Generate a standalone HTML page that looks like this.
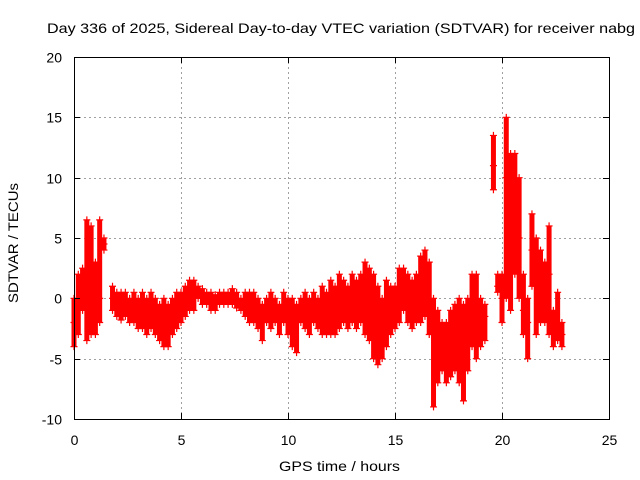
<!DOCTYPE html>
<html><head><meta charset="utf-8"><style>
body{margin:0;background:#fff;}
svg{display:block;font-family:"Liberation Sans",sans-serif;}
</style></head><body>
<svg id="chart" width="640" height="480" viewBox="0 0 640 480" xmlns="http://www.w3.org/2000/svg">
<text x="47" y="33" font-size="14" textLength="588" lengthAdjust="spacingAndGlyphs">Day 336 of 2025, Sidereal Day-to-day VTEC variation (SDTVAR) for receiver nabg</text>
<g id="grid"></g>
<g id="marks"></g>
<rect x="74.5" y="57.5" width="535" height="362" fill="none" stroke="#000" stroke-width="1"/>
<g id="ticks"></g>
<text x="279" y="471" font-size="14" textLength="121" lengthAdjust="spacingAndGlyphs">GPS time / hours</text>
<text x="18" y="303" font-size="14" textLength="120" lengthAdjust="spacingAndGlyphs" transform="rotate(-90 18 303)" dy="0">SDTVAR / TECUs</text>
</svg>
<script>
const xTicks=[0,5,10,15,20,25];
const yTicks=[-10,-5,0,5,10,15,20];
const times=[0,0.2,0.4,0.6,0.8,1.0,1.2,1.4,1.6,1.8,2.0,2.2,2.4,2.6,2.8,3.0,3.2,3.4,3.6,3.8,4.0,4.2,4.4,4.6,4.8,5.0,5.2,5.4,5.6,5.8,6.0,6.2,6.4,6.6,6.8,7.0,7.2,7.4,7.6,7.8,8.0,8.2,8.4,8.6,8.8,9.0,9.2,9.4,9.6,9.8,10.0,10.2,10.4,10.6,10.8,11.0,11.2,11.4,11.6,11.8,12.0,12.2,12.4,12.6,12.8,13.0,13.2,13.4,13.6,13.8,14.0,14.2,14.4,14.6,14.8,15.0,15.2,15.4,15.6,15.8,16.0,16.2,16.4,16.6,16.8,17.0,17.2,17.4,17.6,17.8,18.0,18.2,18.4,18.6,18.8,19.0,19.2,19.4,19.6,19.8,20.0,20.2,20.4,20.6,20.8,21.0,21.2,21.4,21.6,21.8,22.0,22.2,22.4,22.6,22.8];
const hiVals=[0,2,2.5,6.5,6,3,6.5,5,null,1,0.5,0.5,0.5,0,0.5,0,0.5,0,0.5,0,-0.5,0,-0.5,0,0.5,0.5,1,1.5,1.5,1,0.8,0.5,0.5,0.3,0.5,0.5,0.5,0.8,0.5,0,0.5,0.5,0.5,0,-0.5,0,0.5,0,-0.5,0.5,0,0,-0.5,0,0.5,0,0.5,0,1,0.5,1.5,1,2,1.5,1,2,1.5,2,3,2.5,2,1,0,1.5,1,1,2.5,2.5,2,1.5,2,3.5,4,3,0,-1,-2,-2,-1,-0.5,0,-0.5,0,2,2,0,-0.5,null,13.5,2,2,15,12,12,10,2,0,7,5,4,3,6,-1,0.5,-2];
const midVals=[-2,0,1,2,1,-1,0,4.5,null,0,-0.5,-1,-0.5,-1,-1,-1.5,-1,-1.5,-1,-1.5,-2,-2,-2,-1.5,-1,-1,0,0.5,0,0.5,0,0,-0.2,-0.5,0,0,0,0,0,-0.5,-0.5,-1,-1,-1.5,-2,-1,-1,-1,-1.5,-1,-1.5,-2,-2,-1,-1,-1,-1,-1,-1,-1,-0.5,-1,0,0,-1,0,-0.5,0,0.5,0,-1,-2,-2,-1,-1.5,-1,0.5,1,1,0,0.5,1,1.5,0,-3,-3,-4,-4,-3.5,-3,-3,-4,-2,-1,-1,-2,-1.5,null,11,1,0,10,8,6,5,-1,-2,4,1,0,0,2,-2.5,-2,-3];
const loVals=[-4,-3,-1,-3.5,-3,-3,-2,4,null,-1,-1.5,-1.8,-1.5,-2,-2,-2.5,-2.5,-3,-2.5,-3,-3.5,-4,-4,-3,-2.5,-2,-1.5,-1,-1,0,-0.5,-0.5,-1,-1,-0.5,-0.5,-0.5,-0.5,-0.8,-1,-1.5,-2,-2,-2.5,-3.5,-2,-2.5,-2,-3,-2,-3,-4,-4.5,-2,-2.5,-3,-2,-2.5,-3,-3,-3,-3,-2.5,-2,-2.5,-2,-2.5,-2,-3,-3.5,-5,-5.5,-5,-4,-3,-2.5,-2,-1,-2,-2.5,-2,-2,-1.5,-3,-9,-7,-6,-7,-6.5,-6,-7,-8.5,-6,-4,-5,-4,-3.5,null,9,0.5,-2,0,-1,2,0,-3,-5,1,-3,-2,-2,-3,-4,-3.5,-4];
const X0=74,X1=609,Y0=419,Y1=57;
const xs=v=>X0+(v-0)/(25-0)*(X1-X0);
const ys=v=>Y0-(v+10)/(20+10)*(Y0-Y1);
const NS="http://www.w3.org/2000/svg";
function mk(t,a,p){const e=document.createElementNS(NS,t);for(const k in a)e.setAttribute(k,a[k]);p.appendChild(e);return e;}
const grid=document.getElementById('grid'),ticks=document.getElementById('ticks'),marks=document.getElementById('marks');
xTicks.forEach(v=>{const x=Math.round(xs(v))+0.5;
 if(v>0&&v<25){const g=mk('line',{x1:x,x2:x,y1:Y1,y2:Y0,stroke:'#a0a0a0','stroke-dasharray':'2,3'},grid);
 
 }
 const t=mk('text',{x:x,y:445,'font-size':14,'text-anchor':'middle'},ticks);t.textContent=v;
 
 
 mk('line',{x1:x,x2:x,y1:Y0,y2:Y0-6,stroke:'#000'},ticks);
 mk('line',{x1:x,x2:x,y1:Y1,y2:Y1+6,stroke:'#000'},ticks);});
yTicks.forEach(v=>{const y=Math.round(ys(v))+0.5;
 if(v>-10&&v<20){const g=mk('line',{x1:X0,x2:X1,y1:y,y2:y,stroke:'#a0a0a0','stroke-dasharray':'2,3'},grid);
 
 }
 const t=mk('text',{x:62,y:y+5,'font-size':14,'text-anchor':'end'},ticks);t.textContent=v;
 
 
 mk('line',{x1:X0,x2:X0+6,y1:y,y2:y,stroke:'#000'},ticks);
 mk('line',{x1:X1,x2:X1-6,y1:y,y2:y,stroke:'#000'},ticks);});
function plus(t,v){const x=xs(t),y=ys(v);
 const p=mk('path',{d:`M${x-3.5},${y}h7M${x},${y-3.5}v7`,stroke:'#f00','stroke-width':1.2,fill:'none'},marks);
 
 }
times.forEach((t,i)=>{const h=hiVals[i],m=midVals[i],l=loVals[i];if(h===null)return;
 const b=mk('line',{x1:xs(t),x2:xs(t),y1:ys(h),y2:ys(l),stroke:'#f00','stroke-width':5},marks);
 
 
 plus(t,h);plus(t,m);plus(t,l);});
</script>
</body></html>
